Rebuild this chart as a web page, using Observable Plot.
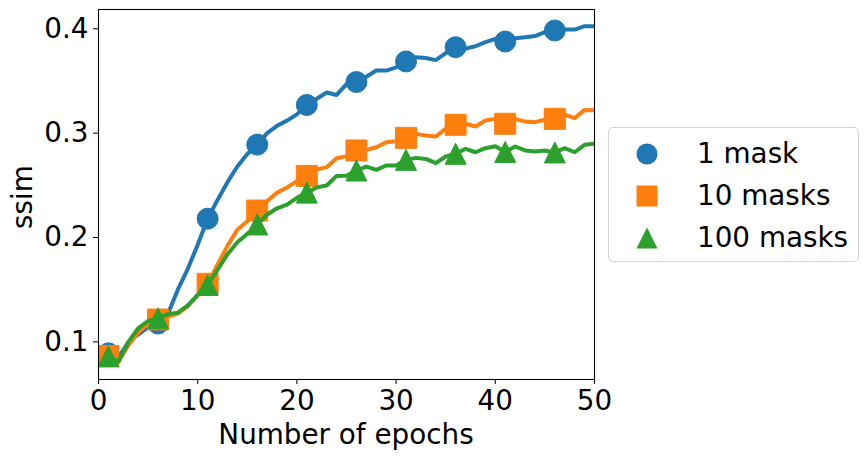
<!DOCTYPE html>
<html><head><meta charset="utf-8">
<script src="https://cdn.jsdelivr.net/npm/d3@7"></script>
<script src="https://cdn.jsdelivr.net/npm/@observablehq/plot@0.6"></script>
<style>
body{margin:0;background:#fff;font-family:"DejaVu Sans",sans-serif;}
#wrap{position:relative;width:868px;height:460px;}
#legend{position:absolute;left:608px;top:127px;width:249px;height:133px;border:1px solid #d4d4d4;border-radius:5px;background:rgba(255,255,255,0.8);}
.row{position:absolute;left:0;height:40px;display:flex;align-items:center;font-size:27.8px;color:#000;}
.row svg{position:absolute;left:26px;top:8px;}
.row span{position:absolute;left:88px;white-space:nowrap;line-height:40px;}
</style></head><body><div id="wrap"></div>
<script>
const epochs = [1,2,3,4,5,6,7,8,9,10,11,12,13,14,15,16,17,18,19,20,21,22,23,24,25,26,27,28,29,30,31,32,33,34,35,36,37,38,39,40,41,42,43,44,45,46,47,48,49,50];
const markerEpochs = [1,6,11,16,21,26,31,36,41,46];
const xTicks = [0,10,20,30,40,50];
const yTicks = [0.1,0.2,0.3,0.4];
const seriesNames = ["1 mask","10 masks","100 masks"];
const seriesColors = ["#1f77b4","#ff7f0e","#2ca02c"];
const mask1 = [0.089,0.085,0.0996,0.107,0.114,0.1175,0.127,0.150,0.170,0.193,
  0.218,0.236,0.253,0.268,0.280,0.289,0.300,0.307,0.312,0.318,
  0.327,0.333,0.339,0.3366,0.347,0.349,0.354,0.360,0.360,0.363,
  0.3687,0.3728,0.372,0.370,0.3767,0.3824,0.381,0.3833,0.3872,0.3904,
  0.3878,0.391,0.392,0.393,0.3968,0.3984,0.3993,0.3993,0.4025,0.4025];
const mask10 = [0.0865,0.0805,0.0964,0.109,0.1175,0.1214,0.124,0.127,0.134,0.1444,
  0.1556,0.174,0.192,0.2075,0.2155,0.2258,0.235,0.243,0.248,0.254,
  0.259,0.265,0.2674,0.276,0.278,0.2834,0.284,0.2865,0.2913,0.2923,
  0.2955,0.2993,0.2977,0.2968,0.3041,0.308,0.309,0.3064,0.3121,0.3137,
  0.309,0.3137,0.3111,0.3105,0.313,0.3137,0.3178,0.3143,0.3223,0.322];
const mask100 = [0.086,0.081,0.0996,0.113,0.120,0.1225,0.1265,0.128,0.135,0.145,
  0.1545,0.169,0.184,0.1955,0.2035,0.2125,0.222,0.228,0.2315,0.238,
  0.243,0.248,0.2498,0.259,0.2592,0.2642,0.268,0.2648,0.269,0.269,
  0.2744,0.2763,0.2753,0.2712,0.2776,0.2802,0.285,0.2817,0.2856,0.2875,
  0.282,0.2872,0.2834,0.2824,0.2834,0.2815,0.2856,0.2817,0.2888,0.2898];
const seriesValues = [mask1, mask10, mask100];

const symCircle = {draw(ctx,size){const r=Math.sqrt(size/Math.PI);ctx.moveTo(r,0);ctx.arc(0,0,r,0,2*Math.PI);}};
const symSquare = {draw(ctx,size){const r=Math.sqrt(size/Math.PI);ctx.rect(-r,-r,2*r,2*r);}};
const symTri = {draw(ctx,size){const r=Math.sqrt(size/Math.PI);ctx.moveTo(0,-r);ctx.lineTo(r,r);ctx.lineTo(-r,r);ctx.closePath();}};
const symbols = [symCircle, symSquare, symTri];

const marks = [];
seriesNames.forEach((name, k) => {
  const data = epochs.map((e, i) => ({epoch: e, ssim: seriesValues[k][i]}));
  const mdata = data.filter(d => markerEpochs.includes(d.epoch));
  marks.push(Plot.line(data, {x:"epoch", y:"ssim", stroke:seriesColors[k], strokeWidth:4, strokeLinejoin:"round", strokeLinecap:"square", clip:true}));
  marks.push(Plot.dot(mdata, {x:"epoch", y:"ssim", r:10.5, symbol:symbols[k], fill:seriesColors[k], stroke:seriesColors[k], strokeWidth:1, clip:true}));
});

const plot = Plot.plot({
  width:868, height:460,
  marginLeft:98, marginRight:274, marginTop:9, marginBottom:81,
  x:{domain:[0,50]},
  y:{domain:[0.0639,0.4185]},
  style:{fontFamily:"DejaVu Sans", fontSize:"27.8px", color:"black", background:"white"},
  marks:[
    Plot.axisX({ticks:xTicks, tickSize:5, tickPadding:6, label:null, fontSize:27.8, stroke:"black"}),
    Plot.axisY({ticks:yTicks, tickSize:5, tickPadding:5, tickFormat:d3.format(".1f"), label:null, fontSize:27.8, stroke:"black"}),
    ...marks,
    Plot.frame({stroke:"black", strokeWidth:1.1})
  ]
});
const svg = d3.select(plot);
svg.append("text").attr("x",346).attr("y",444).attr("text-anchor","middle")
  .attr("font-family","DejaVu Sans").attr("font-size","27.8px").attr("fill","black").text("Number of epochs");
svg.append("text").attr("transform","translate(32,197) rotate(-90)").attr("text-anchor","middle")
  .attr("font-family","DejaVu Sans").attr("font-size","27.8px").attr("fill","black").text("ssim");
const wrap = document.getElementById("wrap");
wrap.appendChild(plot);

const legend = document.createElement("div");
legend.id = "legend";
const shapes = [
  '<circle cx="12" cy="12" r="10.5"/>',
  '<rect x="1.5" y="1.5" width="21" height="21"/>',
  '<path d="M12 1.5 L22.5 22.5 L1.5 22.5 Z"/>'
];
seriesNames.forEach((name, k) => {
  const row = document.createElement("div");
  row.className = "row";
  row.style.top = (6 + k*42) + "px";
  row.innerHTML = `<svg width="24" height="24" viewBox="0 0 24 24" fill="${seriesColors[k]}">${shapes[k]}</svg><span>${name}</span>`;
  legend.appendChild(row);
});
wrap.appendChild(legend);
</script>
</body></html>
